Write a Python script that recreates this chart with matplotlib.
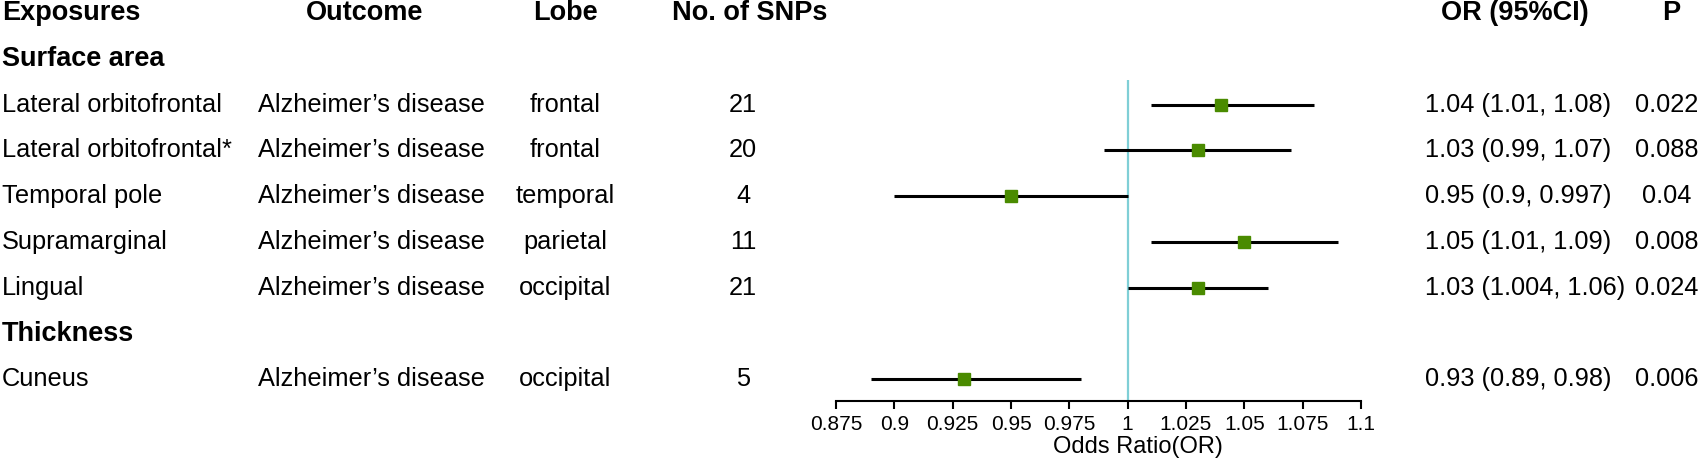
import matplotlib
matplotlib.use("Agg")
import matplotlib.pyplot as plt
import matplotlib.transforms as mtransforms

# data
groups = ["Surface area", "Surface area", "Surface area", "Surface area", "Surface area", "Thickness"]
exposures = ["Lateral orbitofrontal", "Lateral orbitofrontal*", "Temporal pole",
             "Supramarginal", "Lingual", "Cuneus"]
outcome = ["Alzheimer’s disease"] * 6
lobe = ["frontal", "frontal", "temporal", "parietal", "occipital", "occipital"]
n_snps = [21, 20, 4, 11, 21, 5]
or_val = [1.04, 1.03, 0.95, 1.05, 1.03, 0.93]
ci_low = [1.01, 0.99, 0.90, 1.01, 1.00, 0.89]
ci_high = [1.08, 1.07, 1.00, 1.09, 1.06, 0.98]
or_text = ["1.04 (1.01, 1.08)", "1.03 (0.99, 1.07)", "0.95 (0.9, 0.997)",
           "1.05 (1.01, 1.09)", "1.03 (1.004, 1.06)", "0.93 (0.89, 0.98)"]
p_text = ["0.022", "0.088", "0.04", "0.008", "0.024", "0.006"]
xticks = [0.875, 0.9, 0.925, 0.95, 0.975, 1, 1.025, 1.05, 1.075, 1.1]
xticklabels = ["0.875", "0.9", "0.925", "0.95", "0.975", "1", "1.025", "1.05", "1.075", "1.1"]
headers = ["Exposures", "Outcome", "Lobe", "No. of SNPs", "OR (95%CI)", "P"]

plt.rcParams["font.family"] = ["Liberation Sans", "DejaVu Sans"]
W, H = 1699, 461
fig = plt.figure(figsize=(W / 100, H / 100), dpi=100)

# row layout (pixels from top)
y0, dy = 13, 45.8
def row_of(px):
    return (px - y0) / dy

x_left, x_right, top_px, axis_px = 836, 1361, 80, 401
ax = fig.add_axes([x_left / W, (H - axis_px) / H, (x_right - x_left) / W, (axis_px - top_px) / H])
ax.set_xlim(0.875, 1.1)
ax.set_ylim(row_of(axis_px), row_of(top_px))

# build row indices: header 0, each group gets its own title row
rows = []
r = 1
prev = None
for g in groups:
    if g != prev:
        rows.append(("group", g, r))
        r += 1
        prev = g
    rows.append(("item", None, r))
    r += 1
item_rows = [rr for kind, _, rr in rows if kind == "item"]

ax.axvline(1, color="#7fcfd6", lw=1.6, zorder=1)
for i, yr in enumerate(item_rows):
    ax.plot([ci_low[i], ci_high[i]], [yr, yr], color="black", lw=2.2, zorder=2, solid_capstyle="butt")
    ax.plot(or_val[i], yr, marker="s", ms=8, color="#4a8b00", mec="#4a8b00", zorder=3)

for s in ["top", "right", "left"]:
    ax.spines[s].set_visible(False)
ax.spines["bottom"].set_linewidth(1.5)
ax.set_yticks([])
ax.set_xticks(xticks)
ax.set_xticklabels(xticklabels, fontsize=15)
ax.tick_params(axis="x", length=6, width=1.5, pad=4)
ax.text((1138 - x_left) / (x_right - x_left), -(447 - axis_px) / (axis_px - top_px), "Odds Ratio(OR)",
        transform=ax.transAxes, ha="center", va="center", fontsize=17)

tr = mtransforms.blended_transform_factory(fig.transFigure, ax.transData)
def put(px, yr, s, ha="center", bold=False):
    ax.text(px / W, yr, s, transform=tr, ha=ha, va="center", clip_on=False,
            fontsize=19.5 if bold else 18.3, fontweight="bold" if bold else "normal")

# headers
put(2, 0, headers[0], ha="left", bold=True)
put(365, 0, headers[1], bold=True)
put(565, 0, headers[2], bold=True)
put(750, 0, headers[3], bold=True)
put(1515, 0, headers[4], bold=True)
put(1671, 0, headers[5], bold=True)

for kind, g, yr in rows:
    if kind == "group":
        put(2, yr, g, ha="left", bold=True)
for i, yr in enumerate(item_rows):
    put(2, yr, exposures[i], ha="left")
    put(371, yr, outcome[i])
    put(565, yr, lobe[i])
    put(743, yr, str(n_snps[i]))
    put(1425, yr, or_text[i], ha="left")
    put(1667, yr, p_text[i])

fig.savefig("out.png", dpi=100)
